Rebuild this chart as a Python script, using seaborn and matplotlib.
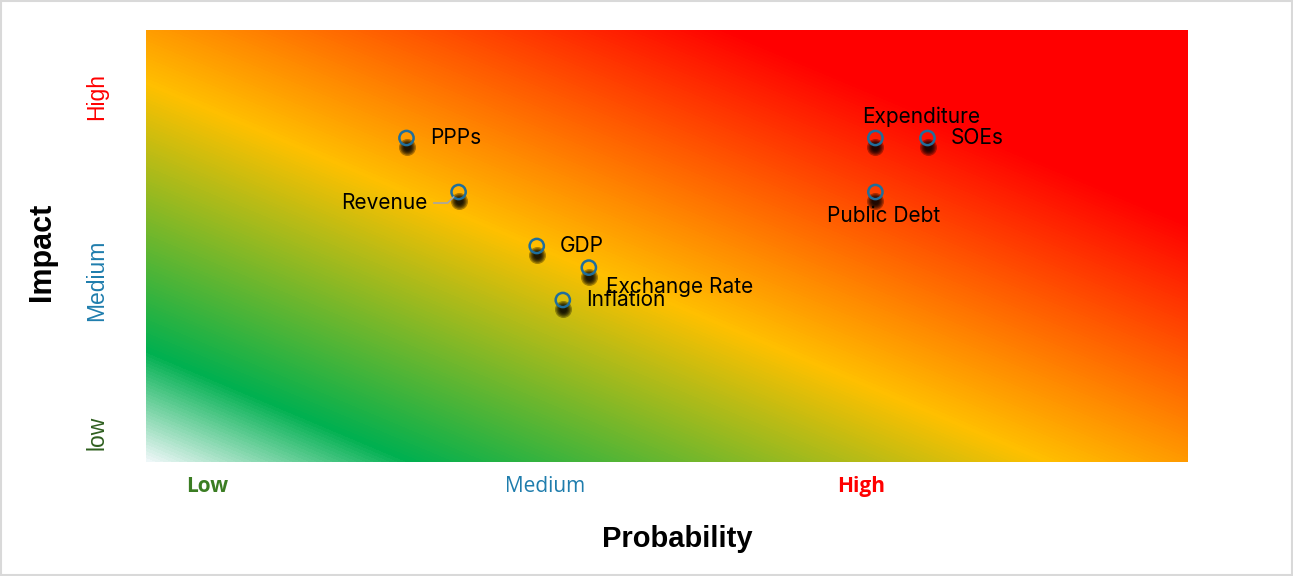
import numpy as np
import pandas as pd
import matplotlib
matplotlib.use("Agg")
import matplotlib.pyplot as plt
import matplotlib.transforms as mtransforms
from matplotlib.colors import LinearSegmentedColormap
from matplotlib.patches import Rectangle
import seaborn as sns

# Risk items: probability (x) and impact (y)
risks = ["PPPs", "Revenue", "GDP", "Exchange Rate", "Inflation",
         "Expenditure", "SOEs", "Public Debt"]
probability = [10, 12, 15, 17, 16, 28, 30, 28]
impact = [30, 25, 20, 18, 15, 30, 30, 25]

x_levels = ["Low", "Medium", "High"]
y_levels = ["low", "Medium", "High"]

df = pd.DataFrame({"risk": risks, "probability": probability, "impact": impact})

sns.set_theme(style="white")
plt.rcParams["font.family"] = ["Inter", "DejaVu Sans"]

W, H = 1293, 576
fig = plt.figure(figsize=(W / 100, H / 100), dpi=100)
ax = fig.add_axes([146 / W, (H - 462) / H, 1042 / W, 432 / H])

# Diagonal heat-map style background (white -> green -> amber -> red)
gw, gh = 1042, 432
cols = np.arange(gw)[None, :]
rows = np.arange(gh)[:, None]
t = 0.42 * cols + (gh - 1 - rows)
t = t / t.max()
cmap = LinearSegmentedColormap.from_list(
    "risk",
    [(0.0, "#eef7f8"), (0.126, "#00b050"), (0.434, "#ffc000"),
     (0.78, "#ff0000"), (1.0, "#ff0000")])
ax.imshow(t, cmap=cmap, extent=(0, 40, 0, 40), origin="upper",
          aspect="auto", zorder=0, interpolation="bilinear")

# Soft drop shadows under the markers
shadow_tr = mtransforms.offset_copy(ax.transData, fig=fig, x=0, y=-9, units="dots")
for s in [150, 105, 70, 45, 25]:
    ax.scatter(df["probability"], df["impact"], s=s, color="black",
               alpha=0.33, linewidths=0, transform=shadow_tr, zorder=2)

sns.scatterplot(data=df, x="probability", y="impact", ax=ax, s=105,
                facecolor="none", edgecolor="#1f6e9c", linewidth=1.8,
                zorder=3, legend=False)

# Data labels
offsets = {
    "PPPs": (24, 0, "left"),
    "Revenue": (-31, -11, "right"),
    "GDP": (23, 0, "left"),
    "Exchange Rate": (17, -19, "left"),
    "Inflation": (23, 0, "left"),
    "Expenditure": (46, 21, "center"),
    "SOEs": (23, 0, "left"),
    "Public Debt": (8, -24, "center"),
}
for name, px, py in zip(risks, probability, impact):
    dx, dy, ha = offsets[name]
    kw = {}
    if name == "Revenue":
        kw["arrowprops"] = dict(arrowstyle="-", color="#a6a6a6", lw=1.2,
                                shrinkA=2, shrinkB=5,
                                connectionstyle="angle,angleA=0,angleB=45,rad=0")
    ax.annotate(name, xy=(px, py), xytext=(dx, dy), textcoords="offset pixels",
                ha=ha, va="center", fontsize=15, color="black", zorder=4, **kw)

ax.set_xlim(0, 40)
ax.set_ylim(0, 40)
for sp in ax.spines.values():
    sp.set_visible(False)

# Category labels along the axes
ax.set_xticks([2.35, 15.3, 27.45])
ax.set_xticklabels(x_levels)
xcolors = ["#3b7d23", "#1f7dad", "#ff0000"]
xweights = ["bold", "normal", "bold"]
for lab, c, w in zip(ax.get_xticklabels(), xcolors, xweights):
    lab.set_color(c)
    lab.set_fontweight(w)
    lab.set_fontfamily(["Open Sans", "DejaVu Sans"])
    lab.set_fontsize(15)
ax.tick_params(axis="x", length=0, pad=10)

ax.set_yticks([2.7, 16.85, 33.8])
ax.set_yticklabels(y_levels, rotation=90, va="center")
ycolors = ["#2f5f1f", "#1f7dad", "#ff0000"]
for lab, c in zip(ax.get_yticklabels(), ycolors):
    lab.set_color(c)
    lab.set_fontfamily(["Liberation Sans", "DejaVu Sans"])
    lab.set_fontsize(16.5)
ax.tick_params(axis="y", length=0, pad=27)

ax.set_xlabel("Probability", fontsize=21, fontweight="bold",
              fontfamily=["Liberation Sans", "DejaVu Sans"], color="black")
ax.xaxis.set_label_coords(0.5096, -0.178)
ax.xaxis.label.set_va("center")
ax.set_ylabel("Impact", fontsize=22, fontweight="bold",
              fontfamily=["Liberation Sans", "DejaVu Sans"], color="black")
ax.yaxis.set_label_coords(-0.1, 0.486)
ax.yaxis.label.set_va("center")

# Light frame around the whole figure
fig.patches.append(Rectangle((0.0008, 0.0015), 0.9984, 0.997, transform=fig.transFigure,
                             fill=False, edgecolor="#d9d9d9", linewidth=1.5))

fig.savefig("out.png", dpi=100, facecolor="white")
